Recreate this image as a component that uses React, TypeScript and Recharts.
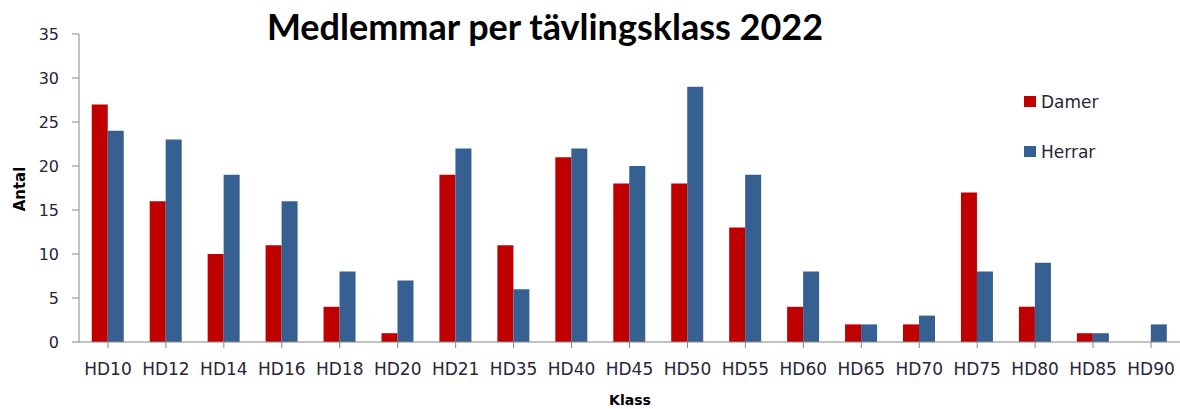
import React from "react";
import { BarChart, Bar, XAxis, YAxis } from "recharts";

const categories = ["HD10","HD12","HD14","HD16","HD18","HD20","HD21","HD35","HD40","HD45","HD50","HD55","HD60","HD65","HD70","HD75","HD80","HD85","HD90"];
const damer = [27,16,10,11,4,1,19,11,21,18,18,13,4,2,2,17,4,1,0];
const herrar = [24,23,19,16,8,7,22,6,22,20,29,19,8,2,3,8,9,1,2];
const yTicks = [0,5,10,15,20,25,30,35];
const seriesNames = ["Damer", "Herrar"];

const data = categories.map((c, i) => ({ klass: c, Damer: damer[i], Herrar: herrar[i] }));

const FONT = "'DejaVu Sans', sans-serif";
const TITLE_FONT = "Lato, 'Open Sans', sans-serif";
const RED = "#C00000";
const BLUE = "#376092";
const AXIS = "#868686";
const TEXT = "#262638";

const XTick = (props: any) => {
  const { x, y, payload } = props;
  return (
    <text x={x} y={y + 25} textAnchor="middle" fontFamily={FONT} fontSize={17} fill={TEXT}>
      {String(payload.value)}
    </text>
  );
};

export default function App() {
  const colors = [RED, BLUE];
  return (
    <div style={{ position: "absolute", left: 0, top: 0, width: 1180, height: 409, background: "#fff", overflow: "hidden" }}>
      <div style={{ position: "absolute", left: 0, top: 8, width: 1090, textAlign: "center", fontFamily: TITLE_FONT, fontWeight: 700, fontSize: 36, color: "#000", lineHeight: "36px", whiteSpace: "nowrap" }}>
        Medlemmar per tävlingsklass 2022
      </div>
      <BarChart width={1180} height={409} data={data} margin={{ top: 34, right: 0, bottom: 37, left: 8 }} barCategoryGap="22%" barGap={0}>
        <XAxis
          dataKey="klass"
          height={30}
          tick={<XTick />}
          tickLine={{ stroke: AXIS }}
          axisLine={{ stroke: AXIS }}
          tickSize={6}
          interval={0}
        />
        <YAxis
          width={71}
          domain={[0, 35]}
          ticks={yTicks}
          interval={0}
          tick={{ fontFamily: FONT, fontSize: 16, fill: TEXT }}
          tickLine={{ stroke: AXIS }}
          axisLine={{ stroke: AXIS }}
          tickSize={7}
          tickMargin={13}
        />
        <Bar dataKey="Damer" fill={RED} isAnimationActive={false} />
        <Bar dataKey="Herrar" fill={BLUE} isAnimationActive={false} />
      </BarChart>
      <svg width={1180} height={409} style={{ position: "absolute", left: 0, top: 0, pointerEvents: "none" }}>
        <text x={630} y={405} textAnchor="middle" fontFamily={FONT} fontWeight={700} fontSize={14} fill="#000">Klass</text>
        <text transform="translate(25,189) rotate(-90)" textAnchor="middle" fontFamily={FONT} fontWeight={700} fontSize={15} fill="#000">Antal</text>
        {seriesNames.map((n, i) => (
          <g key={n}>
            <rect x={1024} y={96 + i * 50} width={12} height={11} fill={colors[i]} />
            <text x={1041} y={108 + i * 50} fontFamily={FONT} fontSize={17} fill={TEXT}>{n}</text>
          </g>
        ))}
      </svg>
    </div>
  );
}
